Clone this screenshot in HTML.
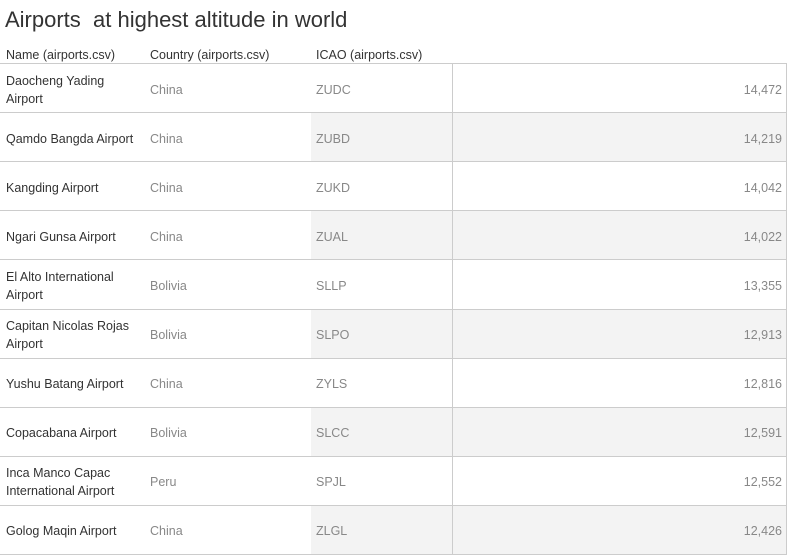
<!DOCTYPE html>
<html><head><meta charset="utf-8"><style>
body{margin:0;width:788px;height:557px;background:#fff;font-family:"Liberation Sans",sans-serif;position:relative;overflow:hidden}
.a{position:absolute}
#title{left:5px;top:7px;font-size:22px;color:#333;white-space:pre}
.h{top:48px;font-size:12.5px;color:#333}
.hl{height:1px;background:#ccc;left:0;width:787px}
.name{left:6px;font-size:12.5px;color:#333;line-height:18px;width:142px}
.cell{font-size:12.5px;color:#888}
</style></head><body>
<div class="a" id="title">Airports  at highest altitude in world</div>
<div class="a h" style="left:6px">Name (airports.csv)</div>
<div class="a h" style="left:150px">Country (airports.csv)</div>
<div class="a h" style="left:316px">ICAO (airports.csv)</div>
<div id="rows"></div>
<script>
const names=["Daocheng Yading<br>Airport","Qamdo Bangda Airport","Kangding Airport","Ngari Gunsa Airport","El Alto International<br>Airport","Capitan Nicolas Rojas<br>Airport","Yushu Batang Airport","Copacabana Airport","Inca Manco Capac<br>International Airport","Golog Maqin Airport"];
const countries=["China","China","China","China","Bolivia","Bolivia","China","Bolivia","Peru","China"];
const icaos=["ZUDC","ZUBD","ZUKD","ZUAL","SLLP","SLPO","ZYLS","SLCC","SPJL","ZLGL"];
const altitudes=[14472,14219,14042,14022,13355,12913,12816,12591,12552,12426];
const top0=64,rh=49.1;
const c=document.getElementById('rows');
function add(cls,style,html,name){const d=document.createElement('div');d.className='a '+cls;d.style.cssText=style;d.innerHTML=html;


c.appendChild(d);return d;}
add('hl','top:63px;','','header-rule');
for(let i=0;i<names.length;i++){
  const y=top0+i*rh;
  if(i%2==1)add('','left:311px;width:475px;top:'+y+'px;height:'+rh+'px;background:#f3f3f3','','row-band');
  const lines=names[i].includes('<br>')?2:1;
  add('name','top:'+(y+rh/2-9*lines+1)+'px',names[i],'airport-name');
  add('cell','left:150px;top:'+(y+rh/2-6)+'px',countries[i],'country-cell');
  add('cell','left:316px;top:'+(y+rh/2-6)+'px',icaos[i],'icao-cell');
  add('cell','right:6px;top:'+(y+rh/2-6)+'px',altitudes[i].toLocaleString('en-US'),'altitude-value');
  add('hl','top:'+Math.round(y+rh-1)+'px','','row-rule');
}
add('','left:452px;top:64px;width:1px;height:491px;background:#ccc','','column-divider');
add('','left:786px;top:64px;width:1px;height:491px;background:#ccc','','right-border');
</script>
</body></html>
